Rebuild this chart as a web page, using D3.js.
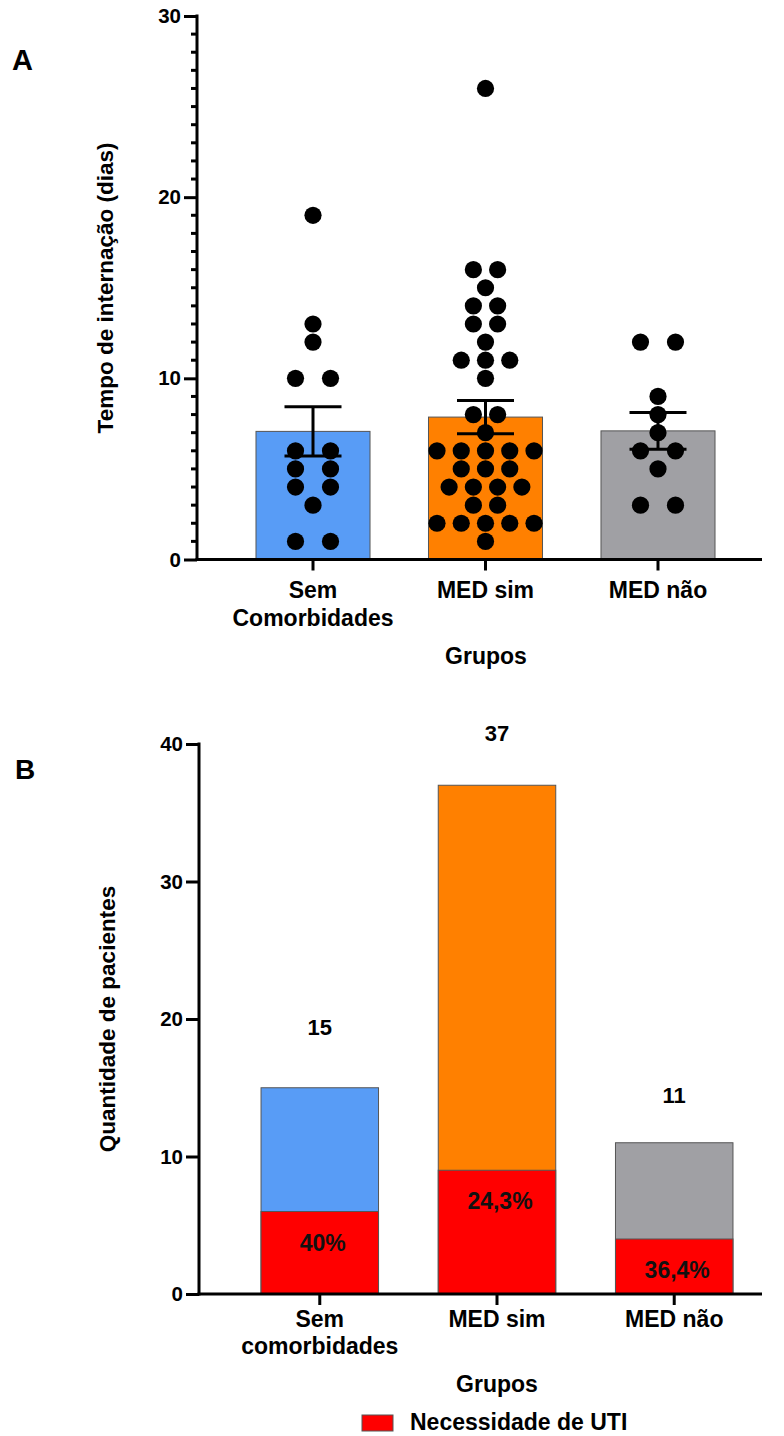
<!DOCTYPE html>
<html>
<head>
<meta charset="utf-8">
<script src="https://cdn.jsdelivr.net/npm/d3@7"></script>
<style>
  html, body { margin: 0; padding: 0; background: #fff; }
  svg { display: block; font-family: "Liberation Sans", Arial, sans-serif; font-weight: bold; }
</style>
</head>
<body>
<svg id="chart" width="784" height="1436"></svg>
<script>
// ---------- DATA ----------
// Panel A: length of stay (days), individual patients
const groupsA = ["Sem\nComorbidades", "MED sim", "MED não"];
const semComorbidades = [19, 13, 12, 10, 10, 6, 6, 5, 5, 4, 4, 3, 1, 1];
const medSim = [26, 16, 16, 15, 14, 14, 13, 13, 12, 11, 11, 11, 10, 8, 8, 7,
                6, 6, 6, 6, 6, 5, 5, 5, 4, 4, 4, 4, 3, 3, 2, 2, 2, 2, 2, 1];
const medNao = [12, 12, 9, 8, 7, 6, 6, 5, 3, 3];
const seriesA = [semComorbidades, medSim, medNao];
const ticksA = [0, 10, 20, 30];

// Panel B: number of patients
const groupsB = ["Sem\ncomorbidades", "MED sim", "MED não"];
const totalPatients = [15, 37, 11];
const utiPatients = [6, 9, 4];
const utiLabels = ["40%", "24,3%", "36,4%"];
const countLabelAt = [19.4, 40.8, 14.5];   // value-level where count labels sit
const ticksB = [0, 10, 20, 30, 40];
const legendLabel = "Necessidade de UTI";

// ---------- STYLE ----------
const colors = ["#589CF6", "#FF8000", "#A0A0A4"];
const red = "#FF0000";
const FONT = '"Liberation Sans", Arial, sans-serif';
const svg = d3.select("#chart");

function multiLineLabels(sel, lineH) {
  sel.each(function(d) {
    const t = d3.select(this);
    const lines = String(d).split("\n");
    t.text(null);
    lines.forEach((ln, i) => {
      t.append("tspan").attr("x", 0).attr("dy", i === 0 ? 0 : lineH).text(ln);
    });
  });
}

function styleAxisText(sel, size) {
  sel.attr("font-size", size).attr("font-weight", "bold").attr("fill", "#000").attr("font-family", FONT);
}

// ================= PANEL A =================
{
  const x0 = 197, yTop = 16, yBot = 559.5;
  const x = d3.scaleBand().domain(groupsA).range([x0, 774]).paddingInner(0.339).paddingOuter(0.342);
  const y = d3.scaleLinear().domain([0, 30]).range([yBot, yTop]);
  const g = svg.append("g");

  const stats = seriesA.map(v => ({ mean: d3.mean(v), sem: d3.deviation(v) / Math.sqrt(v.length) }));
  g.selectAll("rect.bar").data(groupsA).join("rect")
    .attr("x", d => x(d)).attr("width", x.bandwidth())
    .attr("y", (d, i) => y(stats[i].mean))
    .attr("height", (d, i) => y(0) - y(stats[i].mean))
    .attr("fill", (d, i) => colors[i]).attr("stroke", "#555").attr("stroke-width", 1);

  // dots (rows of identical values spread horizontally)
  seriesA.forEach((vals, gi) => {
    const rows = d3.group(vals, v => v);
    const maxN = d3.max(Array.from(rows.values()), r => r.length);
    const spacing = maxN > 1 ? Math.min(35, 97 / (maxN - 1)) : 35;
    const cx = x(groupsA[gi]) + x.bandwidth() / 2;
    const pts = [];
    rows.forEach((arr, v) => {
      arr.forEach((_, i) => pts.push({ v, dx: (i - (arr.length - 1) / 2) * spacing }));
    });
    g.selectAll(null).data(pts).join("circle")
      .attr("cx", d => cx + d.dx).attr("cy", d => y(d.v)).attr("r", 8.6).attr("fill", "#000");
  });

  // error bars (mean ± SEM)
  stats.forEach((s, i) => {
    const cx = x(groupsA[i]) + x.bandwidth() / 2;
    const eg = g.append("g").attr("stroke", "#000").attr("stroke-width", 3);
    eg.append("line").attr("x1", cx).attr("x2", cx).attr("y1", y(s.mean + s.sem)).attr("y2", y(s.mean - s.sem));
    eg.append("line").attr("x1", cx - 28.5).attr("x2", cx + 28.5).attr("y1", y(s.mean + s.sem)).attr("y2", y(s.mean + s.sem));
    eg.append("line").attr("x1", cx - 28.5).attr("x2", cx + 28.5).attr("y1", y(s.mean - s.sem)).attr("y2", y(s.mean - s.sem));
  });

  // y axis
  const ya = g.append("g").attr("transform", `translate(${x0},0)`)
    .call(d3.axisLeft(y).tickValues(ticksA).tickSize(13).tickPadding(3).tickSizeOuter(0));
  ya.select(".domain").remove();
  ya.selectAll(".tick line").attr("stroke-width", 3);
  ya.selectAll(".tick text").call(styleAxisText, 20.5);
  g.append("g").selectAll("line").data(d3.range(0, 31).filter(v => v % 10 !== 0)).join("line")
    .attr("x1", x0 - 6).attr("x2", x0).attr("y1", d => y(d)).attr("y2", d => y(d))
    .attr("stroke", "#000").attr("stroke-width", 3);
  g.append("line").attr("x1", x0).attr("x2", x0).attr("y1", yTop - 1.5).attr("y2", yBot + 1.5)
    .attr("stroke", "#000").attr("stroke-width", 3);

  // x axis
  const xa = g.append("g").attr("transform", `translate(0,${yBot})`)
    .call(d3.axisBottom(x).tickSize(11).tickSizeOuter(0).tickPadding(0));
  xa.select(".domain").remove();
  xa.selectAll(".tick line").attr("stroke-width", 3);
  xa.selectAll(".tick text").call(styleAxisText, 23)
    .attr("y", 38).attr("dy", 0).call(multiLineLabels, 28);
  g.append("line").attr("x1", x0 - 1.5).attr("x2", 762).attr("y1", yBot).attr("y2", yBot)
    .attr("stroke", "#000").attr("stroke-width", 3);

  // titles
  g.append("text").attr("x", 486).attr("y", 664).attr("text-anchor", "middle")
    .attr("font-size", 23).text("Grupos");
  g.append("text").attr("transform", `translate(113,288) rotate(-90)`).attr("text-anchor", "middle")
    .attr("font-size", 22.5).text("Tempo de internação (dias)");
  g.append("text").attr("x", 12).attr("y", 70).attr("font-size", 29).text("A");
}

// ================= PANEL B =================
{
  const x0 = 199, yTop = 744, yBot = 1294;
  const x = d3.scaleBand().domain(groupsB).range([x0, 795]).paddingInner(0.337).paddingOuter(0.35);
  const y = d3.scaleLinear().domain([0, 40]).range([yBot, yTop]);
  const g = svg.append("g");

  g.selectAll(null).data(groupsB).join("rect")
    .attr("x", d => x(d)).attr("width", x.bandwidth())
    .attr("y", (d, i) => y(totalPatients[i])).attr("height", (d, i) => y(0) - y(totalPatients[i]))
    .attr("fill", (d, i) => colors[i]).attr("stroke", "#555").attr("stroke-width", 1);
  g.selectAll(null).data(groupsB).join("rect")
    .attr("x", d => x(d)).attr("width", x.bandwidth())
    .attr("y", (d, i) => y(utiPatients[i])).attr("height", (d, i) => y(0) - y(utiPatients[i]))
    .attr("fill", red).attr("stroke", "#555").attr("stroke-width", 1);

  // percent labels
  g.selectAll(null).data(groupsB).join("text")
    .attr("x", d => x(d) + x.bandwidth() / 2 + 3)
    .attr("y", (d, i) => y(utiPatients[i]) + 39)
    .attr("text-anchor", "middle").attr("font-size", 23).attr("fill", "#111")
    .text((d, i) => utiLabels[i]);
  // count labels
  g.selectAll(null).data(groupsB).join("text")
    .attr("x", d => x(d) + x.bandwidth() / 2)
    .attr("y", (d, i) => y(countLabelAt[i]) + 8)
    .attr("text-anchor", "middle").attr("font-size", 22).attr("fill", "#000")
    .text((d, i) => totalPatients[i]);

  // y axis
  const ya = g.append("g").attr("transform", `translate(${x0},0)`)
    .call(d3.axisLeft(y).tickValues(ticksB).tickSize(13).tickPadding(3).tickSizeOuter(0));
  ya.select(".domain").remove();
  ya.selectAll(".tick line").attr("stroke-width", 3);
  ya.selectAll(".tick text").call(styleAxisText, 20.5);
  g.append("line").attr("x1", x0).attr("x2", x0).attr("y1", yTop - 1.5).attr("y2", yBot + 1.5)
    .attr("stroke", "#000").attr("stroke-width", 3);

  // x axis
  const xa = g.append("g").attr("transform", `translate(0,${yBot})`)
    .call(d3.axisBottom(x).tickSize(11).tickSizeOuter(0).tickPadding(0));
  xa.select(".domain").remove();
  xa.selectAll(".tick line").attr("stroke-width", 3);
  xa.selectAll(".tick text").call(styleAxisText, 23)
    .attr("y", 33).attr("dy", 0).call(multiLineLabels, 27);
  g.append("line").attr("x1", x0 - 1.5).attr("x2", 762).attr("y1", yBot).attr("y2", yBot)
    .attr("stroke", "#000").attr("stroke-width", 3);

  // titles
  g.append("text").attr("x", 497).attr("y", 1392).attr("text-anchor", "middle")
    .attr("font-size", 23).text("Grupos");
  g.append("text").attr("transform", `translate(115,1019) rotate(-90)`).attr("text-anchor", "middle")
    .attr("font-size", 22.5).text("Quantidade de pacientes");
  g.append("text").attr("x", 15).attr("y", 779).attr("font-size", 28).text("B");

  // legend
  g.append("rect").attr("x", 362).attr("y", 1415).attr("width", 31).attr("height", 16)
    .attr("fill", red).attr("stroke", "#555").attr("stroke-width", 1);
  g.append("text").attr("x", 410).attr("y", 1430).attr("font-size", 23).text(legendLabel);
}
</script>
</body>
</html>
